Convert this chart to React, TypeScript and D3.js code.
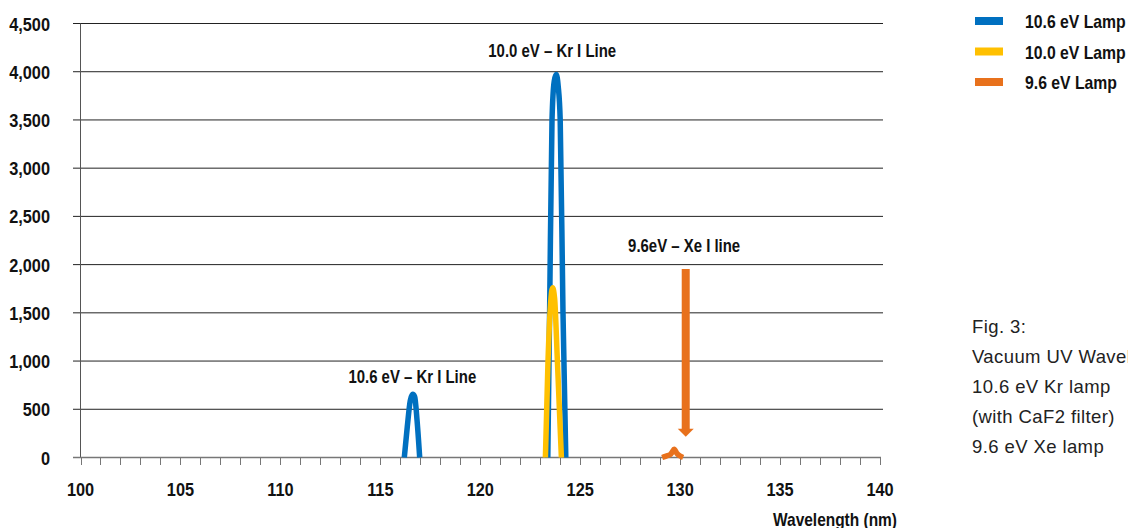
import * as d3 from 'd3';

// tick values
const yTicks = [0, 500, 1000, 1500, 2000, 2500, 3000, 3500, 4000, 4500];
const xMajor = [100, 105, 110, 115, 120, 125, 130, 135, 140];
const xMinor = d3.range(100, 141, 1);

// series (wavelength nm, intensity)
const lamp106Wave = [116.2, 116.35, 116.5, 116.62, 116.72, 116.84, 116.97];
const lamp106Val = [0, 320, 590, 655, 630, 380, 0];
const lamp106bWave = [123.38, 123.47, 123.59, 123.7, 123.8, 123.9, 124.0, 124.14, 124.28];
const lamp106bVal = [0, 1500, 3500, 3900, 3970, 3850, 3500, 1500, 0];
const lamp100Wave = [123.26, 123.39, 123.52, 123.62, 123.72, 123.86, 124.06];
const lamp100Val = [0, 1000, 1600, 1760, 1650, 1000, 0];
const lamp96Wave = [129.1, 129.3, 129.5, 129.6, 129.7, 129.85, 130.0, 130.15];
const lamp96Val = [0, 15, 30, 55, 85, 40, 15, 0];

// arrow for Xe line
const arrowWave = 130.28;
const arrowFrom = 1955;
const arrowTo = 215;

const legendNames = ['10.6 eV Lamp', '10.0 eV Lamp', '9.6 eV Lamp'];
const colors = ['#0070C0', '#FFC000', '#E8711C'];

const annotations = [
  { text: '10.0 eV – Kr I Line', x: 123.6, y: 4150 },
  { text: '9.6eV – Xe I line', x: 130.2, y: 2130 },
  { text: '10.6 eV – Kr I Line', x: 116.6, y: 776 },
];

const caption = ['Fig. 3:', 'Vacuum UV Wavelengths', '10.6 eV Kr lamp', '(with CaF2 filter)', '9.6 eV Xe lamp'];

const bold = "'Liberation Sans', Arial, sans-serif";

function CText({ x, y, size, sx = 0.84, anchor = 'start', children }: any) {
  return (
    <g transform={`translate(${x},${y}) scale(${sx},1)`}>
      <text textAnchor={anchor} fontFamily={bold} fontWeight="bold" fontSize={size} fill="#111">
        {children}
      </text>
    </g>
  );
}

export default function App() {
  const x = d3.scaleLinear().domain([100, 140]).range([80.5, 880]);
  const y = d3.scaleLinear().domain([0, 4500]).range([457.5, 23.5]);

  const line = d3.line<[number, number]>()
    .x(d => x(d[0]))
    .y(d => y(d[1]))
    .curve(d3.curveMonotoneX);

  const zip = (a: number[], b: number[]) => a.map((v, i) => [v, b[i]] as [number, number]);

  const series = [
    { pts: zip(lamp106Wave, lamp106Val), c: colors[0] },
    { pts: zip(lamp106bWave, lamp106bVal), c: colors[0] },
    { pts: zip(lamp100Wave, lamp100Val), c: colors[1] },
    { pts: zip(lamp96Wave, lamp96Val), c: colors[2] },
  ];

  const ax = x(arrowWave);
  const ay0 = y(arrowFrom);
  const ay1 = y(arrowTo);

  return (
    <svg width={1128} height={528} style={{ position: 'fixed', left: 0, top: 0, background: '#fff' }}>
      {yTicks.map(t => (
        <g key={t}>
          {t > 0 && <line x1={73} x2={883} y1={y(t)} y2={y(t)} stroke="#222" strokeWidth={1} />}
          <CText x={50} y={y(t) + 7} size={19} sx={0.86} anchor="end">
            {d3.format(',')(t)}
          </CText>
        </g>
      ))}
      {/* y axis */}
      <line x1={80.5} x2={80.5} y1={23.5} y2={458} stroke="#555" strokeWidth={1} />
      {/* x axis */}
      <line x1={73} x2={881} y1={457.5} y2={457.5} stroke="#777" strokeWidth={1.5} />
      {xMinor.map(t => (
        <line key={t} x1={Math.round(x(t)) + 0.5} x2={Math.round(x(t)) + 0.5} y1={458} y2={465} stroke="#777" strokeWidth={1} />
      ))}
      {xMajor.map(t => (
        <CText key={t} x={x(t)} y={496} size={19} sx={0.86} anchor="middle">
          {t}
        </CText>
      ))}
      <CText x={897} y={526} size={18} sx={0.86} anchor="end">
        Wavelength (nm)
      </CText>

      {series.map((s, i) => (
        <path key={i} d={line(s.pts) || ''} fill="none" stroke={s.c} strokeWidth={5.5} strokeLinejoin="round" />
      ))}

      {/* arrow */}
      <line x1={ax} x2={ax} y1={ay0} y2={ay1 - 7} stroke={colors[2]} strokeWidth={8} />
      <path d={`M${ax - 8},${ay1 - 8} L${ax + 8},${ay1 - 8} L${ax},${ay1} Z`} fill={colors[2]} />

      {annotations.map((a, i) => (
        <CText key={i} x={x(a.x)} y={y(a.y)} size={18} sx={0.83} anchor="middle">
          {a.text}
        </CText>
      ))}

      {legendNames.map((n, i) => (
        <g key={n}>
          <rect x={975} y={17 + i * 30.5} width={28} height={8} fill={colors[i]} />
          <CText x={1025} y={28 + i * 30.5} size={19} sx={0.83}>
            {n}
          </CText>
        </g>
      ))}

      {caption.map((c, i) => (
        <text key={i} x={972} y={333 + i * 30} fontFamily="'Liberation Sans', Arial, sans-serif" fontSize={18.5} letterSpacing={0.4} fill="#222">
          {c}
        </text>
      ))}
    </svg>
  );
}
